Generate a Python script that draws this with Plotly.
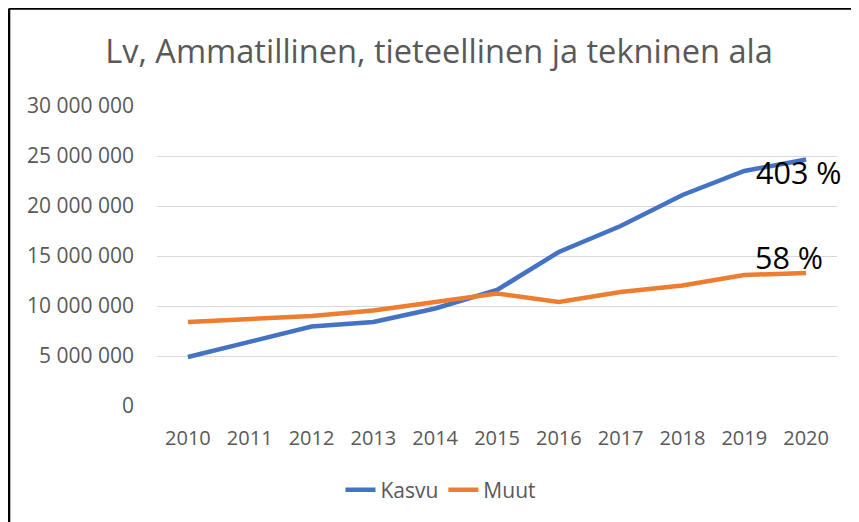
import plotly.graph_objects as go

years = ["2010", "2011", "2012", "2013", "2014", "2015", "2016", "2017", "2018", "2019", "2020"]
kasvu = [4900000, 6450000, 7950000, 8400000, 9750000, 11600000, 15400000, 18000000, 21100000, 23500000, 24650000]
muut = [8400000, 8750000, 9000000, 9550000, 10350000, 11250000, 10400000, 11400000, 12050000, 13100000, 13300000]
growth_labels = ["403 %", "58 %"]

FONT = "Open Sans"
GREY = "#595959"

fig = go.Figure()
fig.add_trace(go.Scatter(x=years, y=kasvu, mode="lines", name="Kasvu",
                         line=dict(color="#4472C4", width=4.5)))
fig.add_trace(go.Scatter(x=years, y=muut, mode="lines", name="Muut",
                         line=dict(color="#ED7D31", width=4.5)))

last = len(years) - 1
fig.add_annotation(x=last, y=kasvu[-1], text=growth_labels[0], showarrow=False,
                   xanchor="center", yanchor="middle", xshift=-8, yshift=-12,
                   font=dict(family=FONT, size=30.5, color="black"))
fig.add_annotation(x=last, y=muut[-1], text=growth_labels[1], showarrow=False,
                   xanchor="center", yanchor="middle", xshift=-17, yshift=16,
                   font=dict(family=FONT, size=30.5, color="black"))

# chart border (left and top)
fig.add_shape(type="line", xref="paper", yref="paper", x0=-0.2176, x1=-0.2176, y0=1.325, y1=-0.45,
              line=dict(color="black", width=2.5))
fig.add_shape(type="line", xref="paper", yref="paper", x0=-0.2176, x1=1.1, y0=1.325, y1=1.325,
              line=dict(color="black", width=2.5))

fig.update_layout(
    width=851, height=514,
    margin=dict(l=149, r=22, t=98, b=116),
    paper_bgcolor="white", plot_bgcolor="white",
    separators=", ",
    font=dict(family=FONT, color=GREY, size=20),
    title=dict(text="Lv, Ammatillinen, tieteellinen ja tekninen ala", x=0.4147, xanchor="center",
               xref="paper", y=0.915, yanchor="middle", font=dict(family=FONT, size=32.6, color=GREY)),
    xaxis=dict(type="category", range=[-0.5, 10.5], showgrid=False, showline=False, ticks="",
               tickfont=dict(size=20, color=GREY), ticklabelstandoff=18),
    yaxis=dict(range=[0, 30000000], dtick=5000000, tickformat=",d", showgrid=True,
               gridcolor="#D9D9D9", gridwidth=1.3, zeroline=False, showline=False, ticks="",
               tickfont=dict(size=21, color=GREY), ticklabelstandoff=22),
    legend=dict(orientation="h", x=0.4176, xanchor="center", y=-0.28, yanchor="middle",
                font=dict(size=21, color=GREY)),
    showlegend=True,
)

fig.write_html("out.html")
